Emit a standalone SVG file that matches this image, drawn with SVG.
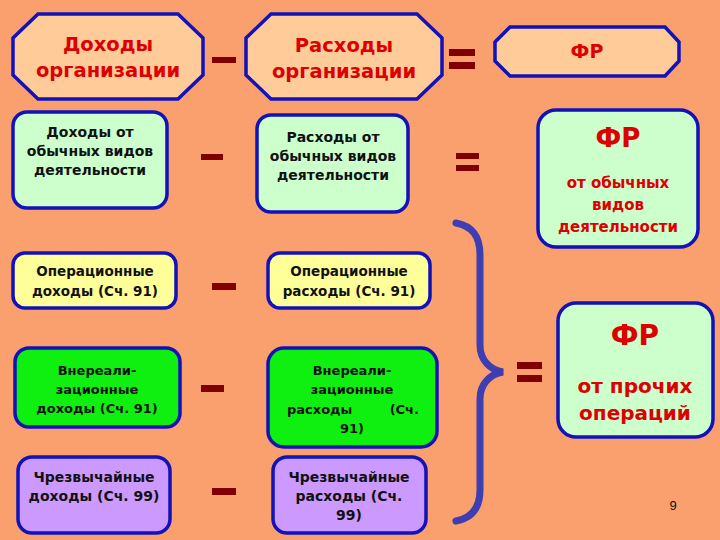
<svg xmlns="http://www.w3.org/2000/svg" width="720" height="540" viewBox="0 0 720 540">
<style>
.box{stroke:#1212B8;stroke-width:3.5}
.peach{fill:#FFCC99}
.lg{fill:#CCFFCC}
.yel{fill:#FFFF99}
.grn{fill:#10F010}
.pur{fill:#CC99FF}
text{font-family:"DejaVu Sans","Liberation Sans",sans-serif;font-weight:bold;text-anchor:middle}
.t{font-size:14px;fill:#111}
.t13{font-size:13px;fill:#111}
.r{fill:#DD0000}
.op{fill:#800000}
</style>
<rect width="720" height="540" fill="#FA9F6E"/>

<g id="n-income-org">
<polygon class="box peach" points="38,14 178,14 203,38 203,75 178,99 38,99 13,75 13,38"/>
<text class="r" x="108" y="51" font-size="19.5">Доходы</text>
<text class="r" x="108" y="77" font-size="19.5">организации</text>
</g>
<g id="n-exp-org">
<polygon class="box peach" points="271,14 417,14 442,38 442,75 417,99 271,99 246,75 246,38"/>
<text class="r" x="344" y="52" font-size="19.5">Расходы</text>
<text class="r" x="344" y="78" font-size="19.5">организации</text>
</g>
<g id="n-fr-org">
<polygon class="box peach" points="510,27 665,27 679,42 679,61 665,76 510,76 495,61 495,42"/>
<text class="r" x="587" y="58" font-size="19">ФР</text>
</g>

<g id="n-income-ord">
<rect class="box lg" x="13" y="112" width="154" height="96" rx="14"/>
<text class="t" x="90" y="137">Доходы от</text>
<text class="t" x="90" y="156">обычных видов</text>
<text class="t" x="90" y="175">деятельности</text>
</g>
<g id="n-exp-ord">
<rect class="box lg" x="257" y="115" width="151" height="97" rx="14"/>
<text class="t" x="333" y="142">Расходы от</text>
<text class="t" x="333" y="161">обычных видов</text>
<text class="t" x="333" y="180">деятельности</text>
</g>
<g id="n-fr-ord">
<rect class="box lg" x="538" y="110" width="160" height="137" rx="18"/>
<text class="r" x="618" y="147" font-size="26">ФР</text>
<text class="r" x="618" y="188" font-size="15">от обычных</text>
<text class="r" x="618" y="210" font-size="15">видов</text>
<text class="r" x="618" y="232" font-size="15">деятельности</text>
</g>

<g id="n-income-op">
<rect class="box yel" x="13" y="253" width="163" height="55" rx="12"/>
<text class="t" x="95" y="276" style="font-size:13.5px">Операционные</text>
<text class="t" x="95" y="296" style="font-size:13.5px">доходы (Сч. 91)</text>
</g>
<g id="n-exp-op">
<rect class="box yel" x="268" y="253" width="162" height="55" rx="12"/>
<text class="t" x="349" y="276" style="font-size:13.5px">Операционные</text>
<text class="t" x="349" y="296" style="font-size:13.5px">расходы (Сч. 91)</text>
</g>

<g id="n-income-nonop">
<rect class="box grn" x="15" y="348" width="165" height="79" rx="14"/>
<text class="t13" x="97" y="375">Внереали-</text>
<text class="t13" x="97" y="394">зационные</text>
<text class="t13" x="97" y="413">доходы (Сч. 91)</text>
</g>
<g id="n-exp-nonop">
<rect class="box grn" x="268" y="348" width="169" height="99" rx="16"/>
<text class="t13" x="352" y="375">Внереали-</text>
<text class="t13" x="352" y="394">зационные</text>
<text class="t13" x="287" y="414" style="text-anchor:start">расходы</text>
<text class="t13" x="419" y="414" style="text-anchor:end">(Сч.</text>
<text class="t13" x="352" y="433">91)</text>
</g>
<g id="n-fr-other">
<rect class="box lg" x="558" y="303" width="155" height="134" rx="18"/>
<text class="r" x="635" y="345" font-size="28">ФР</text>
<text class="r" x="635" y="393" font-size="20">от прочих</text>
<text class="r" x="635" y="420" font-size="20">операций</text>
</g>

<g id="n-income-extra">
<rect class="box pur" x="18" y="457" width="152" height="76" rx="14"/>
<text class="t" x="94" y="482">Чрезвычайные</text>
<text class="t" x="94" y="501">доходы (Сч. 99)</text>
</g>
<g id="n-exp-extra">
<rect class="box pur" x="273" y="457" width="153" height="76" rx="14"/>
<text class="t" x="349" y="482">Чрезвычайные</text>
<text class="t" x="349" y="501">расходы (Сч.</text>
<text class="t" x="349" y="520">99)</text>
</g>

<g id="connectors">
<path d="M456,223 C472,226 480,236 480,255 L480,345 C480,360 490,370 503,372 C490,374 480,384 480,399 L480,490 C480,508 472,518 456,521" fill="none" stroke="#3E3EB2" stroke-width="7" stroke-linecap="round"/>
<g class="op">
<rect x="212" y="57" width="24" height="6"/>
<rect x="449" y="49" width="26" height="7"/>
<rect x="449" y="62" width="26" height="7"/>
<rect x="201" y="154" width="22" height="6"/>
<rect x="456" y="153" width="23" height="6"/>
<rect x="456" y="165" width="23" height="6"/>
<rect x="212" y="283" width="24" height="7"/>
<rect x="201" y="385" width="23" height="7"/>
<rect x="517" y="362" width="25" height="7"/>
<rect x="517" y="375" width="25" height="7"/>
<rect x="212" y="488" width="24" height="7"/>
</g>
</g>
<text x="673" y="510" style="font-family:'Liberation Sans',sans-serif;font-weight:normal;font-size:13px" fill="#111">9</text>
</svg>
